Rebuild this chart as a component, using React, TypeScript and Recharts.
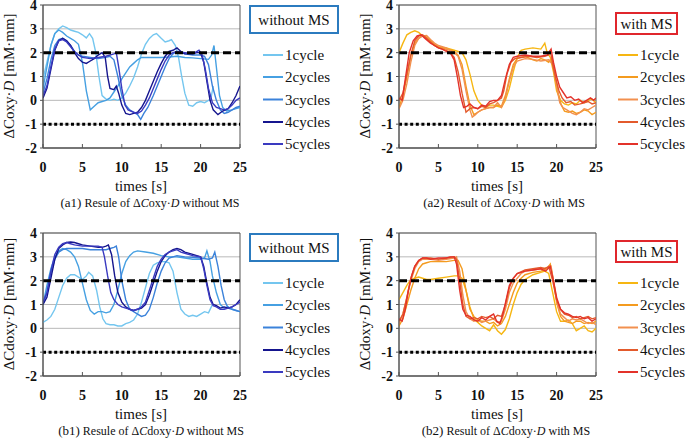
import React from 'react';
import { LineChart, Line, XAxis, YAxis, CartesianGrid, ReferenceArea } from 'recharts';

type Pts = [number, number][];

// ---------- axis / labels ----------
const X_TICKS = [0, 5, 10, 15, 20, 25];
const Y_TICKS = [-2, -1, 0, 1, 2, 3, 4];
const THRESH_UPPER = 2;
const THRESH_LOWER = -1;
const SERIES_NAMES = ['1cycle', '2cycles', '3cycles', '4cycles', '5cycles'];
const BLUES = ['#74c6ef', '#46a0e2', '#3b82da', '#15158e', '#3a3ac0'];
const REDS = ['#f6b612', '#f49b1f', '#f2904f', '#e35a2c', '#e3322a'];

// ---------- (a1) ΔCoxy·D without MS ----------
const a1Cycle1: Pts = [[0,0.9],[0.5,1.6],[1,2.3],[1.5,2.8],[2,3.0],[2.5,3.12],[3,3.05],[3.5,2.95],[4,2.9],[4.5,2.85],[5,2.75],[5.5,2.62],[5.9,2.8],[6.3,2.6],[6.7,2.0],[7.1,1.0],[7.5,0.2],[8,0.05],[8.5,0.0],[9,0.05],[9.5,0.0],[10,0.1],[10.5,0.3],[11,0.6],[11.5,0.95],[12,1.4],[12.5,1.95],[13,2.35],[13.5,2.6],[14,2.75],[14.4,2.8],[15,2.6],[15.5,2.45],[16,2.5],[16.3,2.55],[16.8,2.3],[17.2,1.8],[17.6,1.0],[18,0.3],[18.5,-0.2],[19,-0.25],[19.5,-0.1],[20,-0.05],[20.5,-0.1],[21,0.0],[21.3,0.05],[21.6,0.6]];
const a1Cycle2: Pts = [[0,0.5],[0.5,1.4],[1,2.3],[1.5,2.8],[2,2.95],[2.5,2.85],[3,2.7],[3.5,2.6],[4,2.5],[4.5,2.35],[5,1.6],[5.5,0.4],[6,-0.4],[6.5,-0.25],[7,-0.1],[7.5,-0.05],[8,0.0],[8.5,0.1],[9,0.35],[9.5,0.6],[10,0.9],[10.5,1.15],[11,1.4],[11.5,1.55],[12,1.7],[12.5,1.8],[13,1.8],[14,1.8],[15,1.8],[16,1.82],[17,1.85],[18,1.8],[19,1.78],[20,1.75],[21,1.72],[21.4,1.9],[21.7,2.3],[22,1.4],[22.4,0.2],[22.8,-0.3],[23.3,-0.45],[24,-0.4],[24.5,-0.35],[25,-0.3]];
const a1Cycle3: Pts = [[0,0.3],[0.5,0.9],[1,1.7],[1.5,2.3],[2,2.55],[2.5,2.6],[3,2.5],[3.5,2.3],[4,2.05],[4.5,1.9],[5,1.85],[6,1.8],[7,1.75],[8,1.8],[8.5,1.85],[9,1.7],[9.5,1.0],[10,0.2],[10.5,-0.2],[11,-0.4],[11.5,-0.5],[12,-0.6],[12.4,-0.8],[12.8,-0.55],[13.3,-0.3],[14,0.2],[14.5,0.6],[15,1.0],[15.5,1.4],[16,1.75],[16.5,1.95],[17,2.05],[18,1.95],[19,1.9],[20,1.9],[20.5,1.85],[21,1.5],[21.5,0.6],[22,0.0],[22.5,-0.4],[23,-0.55],[23.5,-0.5],[24,-0.4],[24.5,-0.3],[25,-0.25]];
const a1Cycle4: Pts = [[0,0.1],[0.5,0.5],[1,1.3],[1.5,2.1],[2,2.5],[2.5,2.6],[3,2.5],[3.5,2.3],[4,2.0],[4.5,1.75],[5,1.6],[5.5,1.55],[6,1.65],[6.5,1.75],[7,1.9],[7.5,2.0],[7.9,1.8],[8.2,1.0],[8.5,0.5],[9,0.45],[9.3,0.6],[9.6,0.3],[10,-0.2],[10.5,-0.55],[11,-0.6],[11.5,-0.55],[12,-0.5],[12.5,-0.3],[13,0.0],[13.5,0.4],[14,0.8],[14.5,1.2],[15,1.55],[15.5,1.85],[16,2.05],[16.5,2.1],[17,2.2],[17.5,2.05],[18,1.95],[19,1.95],[19.5,2.0],[20,2.0],[20.4,1.6],[20.8,0.8],[21.2,0.0],[21.6,-0.4],[22.2,-0.6],[22.8,-0.45],[23.5,-0.35],[24,-0.1],[24.5,0.2],[25,0.6]];
const a1Cycle5: Pts = [[0,0.2],[0.5,0.6],[1,1.4],[1.5,2.15],[2,2.5],[2.5,2.55],[3,2.45],[3.5,2.25],[4,2.05],[4.5,1.9],[5,1.8],[6,1.75],[7,1.8],[8,1.85],[9,1.95],[9.3,2.0],[9.6,1.4],[10,0.5],[10.4,-0.2],[10.8,-0.4],[11.5,-0.5],[12,-0.55],[12.5,-0.45],[13,-0.2],[13.5,0.1],[14,0.5],[14.5,0.9],[15,1.3],[15.5,1.65],[16,1.9],[16.5,2.0],[17,2.05],[18,2.0],[19,1.95],[19.8,2.1],[20.2,1.9],[20.6,1.3],[21,0.5],[21.5,-0.1],[22,-0.3],[22.5,-0.35],[23,-0.4],[23.5,-0.35],[24,-0.2],[24.5,0.0],[25,0.1]];

// ---------- (a2) ΔCoxy·D with MS ----------
const a2Cycle1: Pts = [[0,2.0],[0.5,2.4],[1,2.75],[1.5,2.85],[2,2.92],[2.5,2.85],[3,2.7],[3.5,2.6],[4,2.45],[4.5,2.3],[5,2.22],[6,2.2],[7,2.1],[8,2.0],[8.5,1.7],[9,1.1],[9.5,0.4],[10,0.0],[10.5,-0.2],[11,-0.3],[11.5,-0.2],[12,-0.2],[12.5,-0.25],[13,-0.3],[13.5,0.0],[14,0.5],[14.5,1.2],[15,1.8],[15.5,2.1],[16,2.15],[17,2.2],[18,2.15],[18.5,2.4],[18.8,2.0],[19.2,1.8],[19.6,1.2],[20,0.4],[20.5,0.0],[21,-0.15],[21.5,-0.2],[22,-0.1],[22.5,-0.15],[23,0.0],[23.5,-0.1],[24,0.0],[24.5,0.05],[25,-0.1]];
const a2Cycle2: Pts = [[0,-0.3],[0.5,0.2],[1,1.0],[1.5,1.9],[2,2.4],[2.5,2.6],[3,2.72],[3.5,2.65],[4,2.5],[4.5,2.35],[5,2.25],[5.5,2.2],[6,2.15],[6.5,2.1],[7,2.05],[7.5,1.9],[8,1.5],[8.5,0.6],[9,-0.2],[9.5,-0.6],[10,-0.5],[10.5,-0.4],[11,-0.35],[11.5,-0.3],[12,-0.3],[12.5,-0.2],[13,-0.25],[13.5,0.2],[14,0.9],[14.5,1.5],[15,1.75],[15.5,1.8],[16,1.85],[17,1.7],[17.5,1.65],[18,1.75],[18.5,1.7],[19,1.6],[19.4,1.8],[19.8,1.1],[20.2,0.3],[20.6,-0.2],[21,-0.45],[21.5,-0.5],[22,-0.45],[22.5,-0.55],[23,-0.5],[23.5,-0.4],[24,-0.45],[24.5,-0.6],[25,-0.5]];
const a2Cycle3: Pts = [[0,-0.35],[0.5,0.0],[1,0.7],[1.5,1.6],[2,2.3],[2.5,2.6],[3,2.7],[3.5,2.72],[4,2.55],[4.5,2.4],[5,2.3],[5.5,2.25],[6,2.2],[6.5,2.1],[7,2.0],[7.5,1.85],[8,1.3],[8.5,0.4],[9,-0.4],[9.3,-0.7],[9.7,-0.6],[10,-0.5],[10.5,-0.4],[11,-0.35],[11.5,-0.3],[12,-0.3],[12.5,-0.1],[13,-0.3],[13.5,0.1],[14,0.8],[14.5,1.4],[15,1.65],[15.5,1.7],[16,1.75],[17,1.72],[18,1.65],[19,1.7],[19.5,1.5],[20,0.6],[20.4,-0.1],[20.8,-0.3],[21.3,-0.4],[22,-0.55],[22.5,-0.6],[23,-0.5],[23.5,-0.35],[24,-0.4],[24.5,-0.3],[25,-0.2]];
const a2Cycle4: Pts = [[0,0.0],[0.5,0.3],[1,1.1],[1.5,1.9],[2,2.5],[2.5,2.7],[3,2.75],[3.5,2.6],[4,2.45],[4.5,2.3],[5,2.2],[5.5,2.15],[6,2.1],[6.5,2.0],[7,1.8],[7.5,1.2],[8,0.3],[8.5,-0.5],[9,-0.35],[9.5,-0.3],[10,-0.35],[10.5,-0.25],[11,-0.3],[11.5,-0.15],[12,-0.1],[12.5,0.0],[13,0.1],[13.3,0.4],[13.7,1.1],[14.2,1.6],[14.7,1.75],[15.5,1.8],[16.5,1.85],[17.5,1.8],[18.5,1.85],[19,1.9],[19.2,2.1],[19.5,1.5],[19.9,0.9],[20.3,0.4],[20.7,0.1],[21.2,-0.1],[21.8,-0.05],[22.3,-0.2],[23,-0.15],[23.5,-0.1],[24,-0.05],[24.5,-0.15],[25,-0.1]];
const a2Cycle5: Pts = [[0,0.1],[0.4,0.0],[0.8,0.9],[1.3,2.0],[1.8,2.5],[2.3,2.7],[2.8,2.75],[3.3,2.6],[4,2.4],[4.5,2.3],[5,2.2],[5.5,2.15],[6,2.05],[6.5,2.0],[7,1.7],[7.4,1.0],[7.8,0.2],[8.2,-0.3],[8.6,-0.25],[9,-0.15],[9.5,-0.3],[10,-0.35],[10.5,-0.2],[11,-0.25],[11.5,-0.05],[12,0.0],[12.5,0.0],[13,0.2],[13.5,0.9],[14,1.5],[14.5,1.8],[15,1.85],[16,1.9],[17,1.85],[18,1.85],[18.8,1.9],[19.3,2.15],[19.6,1.6],[20,1.0],[20.4,0.55],[20.8,0.35],[21.3,0.1],[21.8,0.15],[22.3,0.0],[22.8,0.05],[23.3,-0.1],[23.8,0.0],[24.3,0.1],[24.7,0.0],[25,0.1]];

// ---------- (b1) ΔCdoxy·D without MS ----------
const b1Cycle1: Pts = [[0,0.25],[0.5,0.35],[1,0.5],[1.5,0.8],[2,1.3],[2.5,1.8],[3,2.1],[3.5,2.25],[4,2.25],[4.5,2.15],[5,2.05],[5.5,2.2],[5.8,2.35],[6.3,2.2],[6.8,1.6],[7.2,0.9],[7.6,0.4],[8,0.2],[8.5,0.15],[9,0.15],[9.5,0.1],[10,0.1],[10.5,0.2],[11,0.25],[11.5,0.35],[12,0.6],[12.5,1.1],[13,1.7],[13.5,2.3],[14,2.65],[14.5,2.75],[15,2.8],[15.5,2.8],[16,2.75],[16.5,2.4],[17,1.5],[17.5,0.8],[18,0.6],[18.5,0.5],[19,0.55],[19.5,0.5],[20,0.6],[20.5,0.7],[21,0.65],[21.5,1.0]];
const b1Cycle2: Pts = [[0,1.0],[0.5,1.8],[1,2.5],[1.5,3.0],[2,3.25],[2.5,3.35],[3,3.3],[3.5,3.2],[4,3.0],[4.5,2.6],[5,1.9],[5.5,1.2],[6,0.75],[6.5,0.6],[7,0.7],[7.5,0.7],[8,0.65],[8.5,0.7],[9,1.0],[9.5,1.6],[10,2.3],[10.5,2.8],[11,3.05],[11.5,3.2],[12,3.25],[13,3.2],[14,3.15],[15,3.05],[16,3.0],[17,3.0],[18,2.95],[19,2.9],[20,2.9],[20.5,2.95],[20.8,3.25],[21.2,2.8],[21.5,2.2],[22,1.5],[22.5,1.0],[23,0.85],[23.5,0.9],[24,0.8],[24.5,0.75],[25,0.7]];
const b1Cycle3: Pts = [[0,1.0],[0.5,1.5],[1,2.3],[1.5,2.9],[2,3.2],[2.5,3.3],[3,3.35],[3.5,3.35],[4,3.35],[5,3.35],[6,3.3],[7,3.3],[8,3.3],[8.5,3.35],[9,3.4],[9.3,3.45],[9.6,3.0],[10,2.0],[10.5,1.2],[11,0.8],[11.5,0.7],[12,0.6],[12.5,0.5],[13,0.55],[13.5,0.8],[14,1.3],[14.5,1.9],[15,2.4],[15.5,2.75],[16,2.95],[17,3.05],[18,3.0],[19,2.98],[20,2.95],[21,2.9],[21.5,2.95],[21.8,3.2],[22.2,2.6],[22.6,1.8],[23,1.2],[23.5,0.85],[24,0.8],[24.5,0.75],[25,0.7]];
const b1Cycle4: Pts = [[0,1.0],[0.5,1.3],[1,2.1],[1.5,2.9],[2,3.35],[2.5,3.5],[3,3.6],[3.5,3.62],[4,3.6],[4.5,3.55],[5,3.5],[6,3.45],[7,3.4],[7.5,3.4],[8,3.45],[8.3,3.5],[8.7,3.1],[9.1,2.2],[9.5,1.5],[10,1.1],[10.5,0.9],[11,0.8],[11.5,0.75],[12,0.8],[12.5,0.85],[13,1.0],[13.5,1.4],[14,1.9],[14.5,2.4],[15,2.8],[15.5,3.05],[16,3.2],[16.5,3.3],[17,3.35],[17.5,3.3],[18,3.2],[19,3.1],[20,3.0],[20.4,2.6],[20.8,1.9],[21.2,1.3],[21.6,1.0],[22,0.95],[22.5,0.85],[23,0.9],[23.5,0.85],[24,0.9],[24.5,1.0],[25,1.2]];
const b1Cycle5: Pts = [[0,1.1],[0.5,1.5],[1,2.4],[1.5,3.1],[2,3.4],[2.5,3.55],[3,3.6],[3.5,3.55],[4,3.5],[5,3.45],[6,3.45],[7,3.45],[7.5,3.4],[7.8,3.0],[8.2,2.2],[8.6,1.5],[9,1.2],[9.5,1.0],[10,0.9],[10.5,0.85],[11,0.8],[11.5,0.75],[12,0.8],[12.5,0.9],[13,1.1],[13.5,1.6],[14,2.1],[14.5,2.6],[15,2.9],[15.5,3.1],[16,3.2],[16.5,3.25],[17,3.3],[17.5,3.2],[18,3.15],[19,3.05],[20,3.0],[20.4,2.5],[20.8,1.8],[21.2,1.2],[21.6,0.95],[22,0.9],[22.5,0.8],[23,0.8],[23.5,0.85],[24,0.9],[24.5,1.0],[25,1.1]];

// ---------- (b2) ΔCdoxy·D with MS ----------
const b2Cycle1: Pts = [[0,1.2],[0.5,1.5],[1,1.8],[1.5,2.05],[2,2.1],[2.5,2.15],[3,2.1],[3.5,2.05],[4,2.05],[5,2.1],[6,2.15],[7,2.2],[7.5,2.2],[8,2.1],[8.5,1.6],[9,0.9],[9.5,0.4],[10,0.25],[10.5,0.1],[11,0.0],[11.5,-0.1],[12,0.15],[12.5,-0.1],[13,-0.25],[13.5,-0.05],[14,0.4],[14.5,1.0],[15,1.5],[15.5,1.85],[16,2.05],[16.5,2.15],[17,2.25],[18,2.35],[18.5,2.4],[19,2.3],[19.5,1.5],[20,0.7],[20.5,0.3],[21,0.3],[21.5,0.35],[22,0.2],[22.5,-0.1],[23,0.0],[23.5,0.1],[24,-0.1],[24.5,-0.15],[25,0.0]];
const b2Cycle2: Pts = [[0,0.1],[0.5,0.4],[1,1.0],[1.5,1.6],[2,2.1],[2.5,2.5],[3,2.7],[3.5,2.75],[4,2.8],[5,2.8],[6,2.8],[7,2.85],[7.5,2.85],[8,2.5],[8.5,1.6],[9,0.8],[9.5,0.5],[10,0.35],[10.5,0.3],[11,0.3],[11.5,0.2],[12,0.25],[12.5,0.1],[13,0.2],[13.5,0.5],[14,1.0],[14.5,1.5],[15,1.9],[15.5,2.1],[16,2.25],[17,2.35],[18,2.4],[18.8,2.5],[19.2,2.7],[19.6,2.0],[20,1.1],[20.5,0.5],[21,0.3],[21.5,0.25],[22,0.2],[22.5,0.3],[23,0.3],[23.5,0.2],[24,0.25],[24.5,0.2],[25,0.3]];
const b2Cycle3: Pts = [[0,0.2],[0.5,0.6],[1,1.3],[1.5,2.0],[2,2.5],[2.5,2.8],[3,2.9],[4,2.9],[5,2.85],[6,2.9],[7,2.95],[7.3,3.0],[7.7,2.4],[8.1,1.4],[8.5,0.7],[9,0.4],[9.5,0.3],[10,0.35],[10.5,0.25],[11,0.3],[11.5,0.35],[12,0.4],[12.5,0.25],[13,0.3],[13.5,0.8],[14,1.5],[14.5,1.9],[15,2.1],[15.5,2.3],[16,2.4],[17,2.45],[18,2.5],[19,2.55],[19.3,2.6],[19.7,1.8],[20.1,1.0],[20.5,0.6],[21,0.45],[21.5,0.3],[22,0.4],[22.5,0.35],[23,0.4],[23.5,0.3],[24,0.2],[24.5,0.25],[25,0.15]];
const b2Cycle4: Pts = [[0,0.3],[0.5,0.6],[1,1.3],[1.5,2.1],[2,2.6],[2.5,2.85],[3,2.95],[4,2.95],[5,2.9],[6,2.95],[7,3.0],[7.3,2.9],[7.7,2.0],[8.1,1.0],[8.5,0.5],[9,0.4],[9.5,0.45],[10,0.4],[10.5,0.5],[11,0.45],[11.5,0.5],[12,0.4],[12.5,0.55],[13,0.5],[13.5,1.0],[14,1.7],[14.5,2.1],[15,2.3],[16,2.45],[17,2.5],[18,2.55],[18.5,2.5],[19,2.6],[19.5,2.0],[20,1.2],[20.5,0.8],[21,0.6],[21.5,0.55],[22,0.45],[22.5,0.5],[23,0.4],[23.5,0.45],[24,0.5],[24.5,0.4],[25,0.45]];
const b2Cycle5: Pts = [[0,0.4],[0.4,0.3],[0.8,0.8],[1.2,1.6],[1.6,2.2],[2,2.6],[2.5,2.85],[3,2.95],[3.5,2.95],[4,2.9],[5,2.95],[6,2.95],[6.5,3.0],[7,3.0],[7.3,2.7],[7.7,1.6],[8.1,0.8],[8.5,0.55],[9,0.5],[9.5,0.35],[10,0.3],[10.5,0.45],[11,0.35],[11.5,0.5],[12,0.6],[12.4,0.3],[12.8,0.2],[13.2,0.6],[13.6,1.2],[14,1.8],[14.5,2.1],[15,2.3],[16,2.4],[17,2.45],[18,2.5],[18.6,2.4],[19.2,2.6],[19.6,2.0],[20,1.3],[20.5,0.8],[21,0.65],[21.5,0.6],[22,0.5],[22.5,0.45],[23,0.5],[23.5,0.4],[24,0.45],[24.5,0.3],[25,0.4]];

// ---------- helpers ----------
const FONT = "'Liberation Serif', 'Times New Roman', Times, serif";
const FRAME = '#555555';
const GRID = '#b9b9b9';
const toRows = (p: Pts) => p.map(([t, v]) => ({ t, v }));
const hLine = (v: number) => [{ t: X_TICKS[0], v }, { t: X_TICKS[X_TICKS.length - 1], v }];
const TXT = { fontFamily: FONT };

const XTick = (props: any) => {
  const { x, y, payload } = props;
  return (
    <g>
      <line x1={x} x2={x} y1={y} y2={y - 4} stroke={FRAME} strokeWidth={1} />
      <text x={x} y={y + 24} textAnchor="middle" fontSize={14} fontWeight="bold" style={TXT} fill="#111">
        {payload.value}
      </text>
    </g>
  );
};

const YTick = (props: any) => {
  const { x, y, payload } = props;
  return (
    <g>
      <line x1={x - 3} x2={x} y1={y} y2={y} stroke={FRAME} strokeWidth={1} />
      <text x={x - 6} y={y + 5} textAnchor="end" fontSize={14} fontWeight="bold" style={TXT} fill="#111">
        {payload.value}
      </text>
    </g>
  );
};

type PanelProps = {
  left: number;
  top: number;
  series: Pts[];
  colors: string[];
};

// chart div is shifted 10px up so the plot area starts 5px below the panel top
const Panel = ({ left, top, series, colors }: PanelProps) => (
  <div style={{ position: 'absolute', left, top: top - 10 }}>
    <LineChart width={252} height={192} margin={{ top: 15, right: 12, bottom: 0, left: 0 }}>
      <CartesianGrid vertical={false} stroke={GRID} strokeWidth={1} />
      <XAxis
        type="number"
        dataKey="t"
        domain={[0, 25]}
        ticks={X_TICKS}
        interval={0}
        height={34}
        tickSize={0}
        tickMargin={0}
        tickLine={false}
        axisLine={{ stroke: FRAME }}
        tick={<XTick />}
        allowDataOverflow
      />
      <YAxis
        type="number"
        dataKey="v"
        domain={[-2, 4]}
        ticks={Y_TICKS}
        interval={0}
        width={43}
        tickSize={0}
        tickMargin={0}
        tickLine={false}
        axisLine={{ stroke: FRAME }}
        tick={<YTick />}
        allowDataOverflow
      />
      <ReferenceArea x1={0} x2={25} y1={-2} y2={4} fill="none" stroke={FRAME} strokeWidth={1} />
      {series.map((s, i) => (
        <Line
          key={SERIES_NAMES[i]}
          name={SERIES_NAMES[i]}
          data={toRows(s)}
          dataKey="v"
          type="linear"
          stroke={colors[i]}
          strokeWidth={1.4}
          dot={false}
          isAnimationActive={false}
        />
      ))}
      <Line data={hLine(THRESH_UPPER)} dataKey="v" stroke="#000" strokeWidth={3} strokeDasharray="8 4" dot={false} isAnimationActive={false} legendType="none" />
      <Line data={hLine(THRESH_LOWER)} dataKey="v" stroke="#000" strokeWidth={3} strokeDasharray="3 2.6" dot={false} isAnimationActive={false} legendType="none" />
    </LineChart>
  </div>
);

type TextsProps = {
  dx: number;
  dy: number;
  quantity: string;
  tag: string;
  verb: string;
  ms: string;
  boxTitle: string;
  boxColor: string;
  boxX: number;
  boxW: number;
  legendX: number;
  colors: string[];
  captionCx: number;
};

const PanelTexts = ({ dx, dy, quantity, tag, verb, ms, boxTitle, boxColor, boxX, boxW, legendX, colors, captionCx }: TextsProps) => {
  const itemY = [55, 77, 99.5, 122, 144];
  return (
    <g style={TXT} fill="#111">
      {/* y-axis label */}
      <text transform={`translate(${14 + dx},${76 + dy}) rotate(-90)`} textAnchor="middle" fontSize={15} style={TXT}>
        {`Δ${quantity}·`}
        <tspan fontStyle="italic">D</tspan>
        {' [mM·mm]'}
      </text>
      {/* x-axis label */}
      <text x={141 + dx} y={191 + dy} textAnchor="middle" fontSize={15} style={TXT}>times [s]</text>
      {/* caption */}
      <text x={captionCx} y={207 + dy} textAnchor="middle" fontSize={12} style={TXT}>
        <tspan fontSize={13}>{`(${tag})`}</tspan>
        {` ${verb} of Δ`}
        <tspan fontStyle="italic">C</tspan>
        {`${quantity.slice(1)}·`}
        <tspan fontStyle="italic">D</tspan>
        {` ${ms}`}
      </text>
      {/* legend box */}
      <rect x={boxX} y={dy + (dx ? 13 : 6)} width={boxW} height={dx ? 21 : 27} fill="#fff" stroke={boxColor} strokeWidth={2} />
      <text x={boxX + boxW / 2} y={dy + (dx ? 29 : 25)} textAnchor="middle" fontSize={15} style={TXT}>{boxTitle}</text>
      {SERIES_NAMES.map((n, i) => (
        <g key={n}>
          <line x1={legendX} x2={legendX + 20} y1={itemY[i] + dy} y2={itemY[i] + dy} stroke={colors[i]} strokeWidth={2} />
          <text x={legendX + 22} y={itemY[i] + dy + 5} fontSize={15} style={TXT}>{n}</text>
        </g>
      ))}
    </g>
  );
};

export default function App() {
  const DX = 356;
  const DY = 228;
  return (
    <div style={{ position: 'absolute', left: 0, top: 0, width: 685, height: 439, background: '#fff', overflow: 'hidden' }}>
      <Panel left={0} top={0} series={[a1Cycle1, a1Cycle2, a1Cycle3, a1Cycle4, a1Cycle5]} colors={BLUES} />
      <Panel left={DX} top={0} series={[a2Cycle1, a2Cycle2, a2Cycle3, a2Cycle4, a2Cycle5]} colors={REDS} />
      <Panel left={0} top={DY} series={[b1Cycle1, b1Cycle2, b1Cycle3, b1Cycle4, b1Cycle5]} colors={BLUES} />
      <Panel left={DX} top={DY} series={[b2Cycle1, b2Cycle2, b2Cycle3, b2Cycle4, b2Cycle5]} colors={REDS} />
      <svg width={685} height={439} style={{ position: 'absolute', left: 0, top: 0, pointerEvents: 'none' }}>
        <PanelTexts dx={0} dy={0} quantity="Coxy" tag="a1" verb="Resule" ms="without MS" boxTitle="without MS" boxColor="#2b7bbf" boxX={250} boxW={88} legendX={263} colors={BLUES} captionCx={150} />
        <PanelTexts dx={DX} dy={0} quantity="Coxy" tag="a2" verb="Result" ms="with MS" boxTitle="with MS" boxColor="#e0262c" boxX={616} boxW={61} legendX={618} colors={REDS} captionCx={504} />
        <PanelTexts dx={0} dy={DY} quantity="Cdoxy" tag="b1" verb="Resule" ms="without MS" boxTitle="without MS" boxColor="#2b7bbf" boxX={250} boxW={88} legendX={263} colors={BLUES} captionCx={151} />
        <PanelTexts dx={DX} dy={DY} quantity="Cdoxy" tag="b2" verb="Result" ms="with MS" boxTitle="with MS" boxColor="#e0262c" boxX={616} boxW={61} legendX={618} colors={REDS} captionCx={506} />
      </svg>
    </div>
  );
}
